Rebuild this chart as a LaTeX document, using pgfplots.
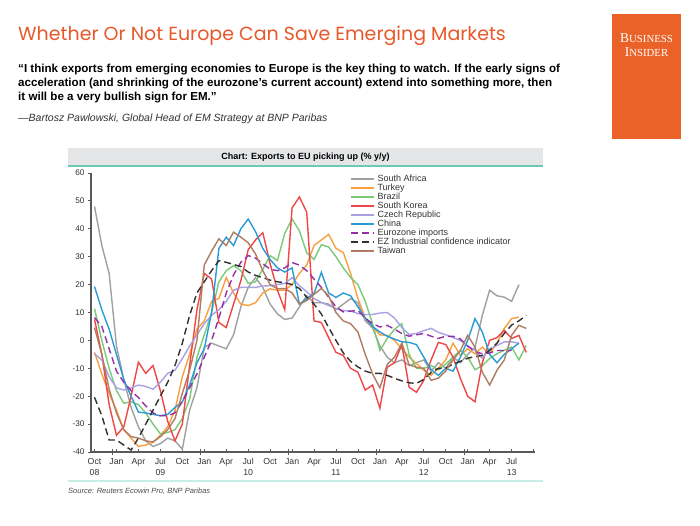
\documentclass[border=0pt]{standalone}
\usepackage{fontspec}
\setmainfont{Liberation Sans}
\newfontfamily\titlefont{Poppins}
\newfontfamily\bifont{Liberation Serif}
\usepackage{pgfplots}
\pgfplotsset{compat=1.18}
\usepackage{pgfplotstable}
\usepackage{graphicx}

\definecolor{titleorange}{RGB}{232,88,42}
\definecolor{biorange}{RGB}{234,98,40}
\definecolor{headgray}{RGB}{228,230,232}
\definecolor{tealline}{RGB}{108,201,181}
\definecolor{teallight}{RGB}{200,237,230}
\definecolor{cSA}{RGB}{160,160,160}
\definecolor{cTR}{RGB}{248,160,64}
\definecolor{cBR}{RGB}{122,202,122}
\definecolor{cKR}{RGB}{240,70,70}
\definecolor{cCZ}{RGB}{168,162,228}
\definecolor{cCN}{RGB}{42,155,213}
\definecolor{cEZI}{RGB}{150,48,168}
\definecolor{cEZC}{RGB}{50,50,50}
\definecolor{cTW}{RGB}{176,124,98}

\pgfplotstableread{
m sa tr br kr cz cn ezi ezc tw
0 48 -4.3 11.4 7.5 -4.8 19.3 8.2 -20.4 4.6
1 34 -12 0 -5 -7 11 5 -27 -5
2 24 -19 -10 -23 -13 4 -3 -35.7 -17.5
3 -2 -25 -18 -34 -17 -5 -11 -35.7 -26
4 -14 -32 -22.5 -31 -17.8 -14 -15 -37.5 -32
5 -24 -35 -22 -20 -17 -20 -18 -39.3 -34.5
6 -31 -38 -23 -7.8 -16 -25.7 -20.5 -35 -35
7 -36 -37.5 -26 -11.8 -16.5 -26 -23.5 -30 -36
8 -38 -36.5 -30 -9 -17.5 -26.5 -26 -25 -36.4
9 -37 -34 -33.5 -18 -15 -27 -27 -20 -34.5
10 -35 -31 -33 -29 -11.8 -26.5 -27 -15 -32
11 -36 -25 -32 -36 -10.7 -24 -26 -9 -28
12 -39 -13 -28 -30 -6.5 -22 -22 -1 -19
13 -25 -5 -21 -9 -2 -16 -17 9 -10.7
14 -17 4 -6 11 2 -8 -12 17 0
15 -2.5 7 2 24 6 -3 -6 21 27
16 -1 14 10 22 9 10 0 25 32
17 -2 15 21 6.4 11 33 8 28.6 36.4
18 -3 22.5 25 4.6 14 37 17 28 34
19 2 17 26.8 13 18 34 23.5 27.2 38.8
20 12 13 25 21.4 19 40 28 26.5 37
21 19 12.5 20.5 32.5 19 43.5 30.4 24.5 35
22 22.5 13.5 21 36 19 39 29.5 23.3 31
23 19 17 25.5 38.6 19.5 33 27.5 22.5 25
24 13 18.5 30.4 27.5 19.6 29 25.5 21.6 20
25 9.5 18 28.6 18 20 26 25 21 18.5
26 7.5 18 38.4 11 20.4 24.5 26 20.7 18.6
27 8 20 43.5 47.5 22.5 26 27.9 20 17
28 12 24 39.3 51.4 19.6 13 27 18.6 13
29 16 27 31.4 46 17.5 15 25 15.5 14.3
30 13.5 34 29 7 15 16.8 22 13 16.5
31 13.5 36 34.3 6.4 13.6 24.4 19 9.5 18.6
32 13 38 33.5 1 12.5 17 15.5 4.6 16
33 11 33 30 -4.3 11.5 15.4 12 0 10
34 13 31.5 26 -5.4 10.7 17 10.2 -4.5 7
35 15 24 22.5 -10 10.5 16 10.5 -7.5 6
36 13.5 15 20 -11.4 9.6 12 10.7 -9.5 3
37 7 8 14 -17.8 9.3 8 8 -11 -5
38 4.5 5 6 -16 9.3 5 6 -11.8 -12
39 -2 2 -3.6 -24.3 9.8 3 4.8 -11.8 -17
40 -6 1.8 0.7 -9.6 10 1.5 5.4 -12.5 -8.6
41 -8 0 4 -8 8 0.5 4 -13.6 -6
42 -7 -3 6 -1.5 4.6 -0.5 2.5 -14.5 -1
43 -9 -6 -5 -16.8 2.1 -0.7 1.5 -15.2 -8.8
44 -8 -8.3 -10 -18.6 2.5 -1.5 2 -15.4 -9.6
45 -7 -10.7 -10 -14.3 3.5 -6 2.5 -14 -10
46 -11 -12.5 -9 -7 4.3 -10.5 1.5 -11.5 -14.3
47 -8 -10 -10.5 -0.7 2.9 -12.5 0.7 -10 -13.5
48 -10 -7 -8.5 -1.5 2 -10 1.5 -10 -11
49 -6 -1 -6 -6 1 -11 1.5 -8.5 -7
50 -8 -5.4 -3.6 -13.6 0 -6 0.5 -7.5 -3.6
51 -5 -3 -6 -20 -2 0 -2 -6.4 1.8
52 -2.5 -4.8 -10.5 -22 -3.6 7.8 -4 -5.8 -2.4
53 9 -2.4 -9 -8 -6.4 3 -4.8 -5.4 -11.4
54 18 -4.8 -6.5 0 -3 -5 -4.5 -3.6 -16
55 16 -1 -4.8 1 -1.8 -8 -3.6 -1 -10.7
56 15.5 4.3 -3.5 3.6 -0.5 -5 -3.6 2.5 -7
57 14 7.8 -2.4 0.7 -0.5 -3 -3.6 5.5 1.8
58 20 8.3 -7 1.8 -1 -1 nan 7 5.4
59 nan nan -1.8 -4.3 nan nan nan 9 4.3
}\data

\begin{document}
\begin{tikzpicture}
\path[use as bounding box, fill=white] (0pt,0pt) rectangle (700pt,-525pt);

% title
\node[anchor=base west, inner sep=0pt, text=titleorange, font=\titlefont\fontsize{19}{21}\selectfont] at (18pt,-40pt) {Whether Or Not Europe Can Save Emerging Markets};

% quote
\node[anchor=base west, inner sep=0pt, font=\bfseries\fontsize{11.6}{13}\selectfont] at (18pt,-72pt) {“I think exports from emerging economies to Europe is the key thing to watch. If the early signs of};
\node[anchor=base west, inner sep=0pt, font=\bfseries\fontsize{11.6}{13}\selectfont] at (18pt,-86pt) {acceleration (and shrinking of the eurozone’s current account) extend into something more, then};
\node[anchor=base west, inner sep=0pt, font=\bfseries\fontsize{11.6}{13}\selectfont] at (18pt,-100pt) {it will be a very bullish sign for EM.”};
\node[anchor=base west, inner sep=0pt, text=black!80, font=\itshape\fontsize{10.5}{12}\selectfont] at (18pt,-121pt) {—Bartosz Pawlowski, Global Head of EM Strategy at BNP Paribas};

% Business Insider logo
\fill[biorange] (612pt,-14pt) rectangle (681pt,-139pt);
\node[text=white, inner sep=0pt, anchor=base] at (646.5pt,-42.5pt) {\bifont{\fontsize{13.5}{13}\selectfont B}{\fontsize{10.8}{13}\selectfont USINESS}};
\node[text=white, inner sep=0pt, anchor=base] at (646.5pt,-56pt) {\bifont{\fontsize{13.5}{13}\selectfont I}{\fontsize{10.8}{13}\selectfont NSIDER}};

% chart header
\fill[headgray] (68pt,-148pt) rectangle (543pt,-166pt);
\draw[tealline, line width=1.5pt] (68pt,-166pt) -- (543pt,-166pt);
\node[font=\bfseries\fontsize{9}{10}\selectfont, inner sep=0pt] at (305.5pt,-157.5pt) {Chart: Exports to EU picking up (\% y/y)};

% bottom
\draw[teallight, line width=1.5pt] (68pt,-481pt) -- (543pt,-481pt);
\node[anchor=west, inner sep=0pt, text=black!70, font=\itshape\fontsize{7.5}{9}\selectfont] at (68pt,-491pt) {Source: Reuters Ecowin Pro, BNP Paribas};

\begin{axis}[
  at={(91pt,-452pt)}, anchor=south west,
  scale only axis, width=444pt, height=279pt,
  xmin=-0.48, xmax=60.2, ymin=-40, ymax=60,
  axis x line*=bottom, axis y line*=left,
  axis line style={draw=black!65, line width=1.2pt},
  tick align=outside,
  major tick length=3pt,
  ytick={-40,-30,...,60},
  xtick={0,3,...,60},
  xticklabels={{Oct\\08},Jan,Apr,{Jul\\09},Oct,Jan,Apr,{Jul\\10},Oct,Jan,Apr,{Jul\\11},Oct,Jan,Apr,{Jul\\12},Oct,Jan,Apr,{Jul\\13},{}},
  xticklabel style={align=center, font=\fontsize{8.7}{10.5}\selectfont, text=black!80},
  yticklabel style={font=\fontsize{8.2}{9}\selectfont, text=black!80},
  ytick style={draw=black!65, line width=0.8pt},
  xtick style={draw=black!65, line width=0.8pt, yshift=3pt},
  extra x ticks={2.5,14.5,26.5,38.5,50.5},
  extra x tick labels={},
  extra x tick style={major tick length=6pt},
  /pgf/number format/assume math mode=true,
  unbounded coords=jump,
  legend cell align=left,
  legend style={at={(0.583,0.995)}, anchor=north west, draw=none, fill=none,
     font=\fontsize{9}{9}\selectfont, inner sep=0pt,
     nodes={text=black!80, text height=6.5pt, text depth=1.9pt, inner ysep=0.3pt, inner xsep=3pt}},
  legend image code/.code={\draw[#1, line width=1.5pt] (0pt,0pt) -- (23pt,0pt);},
  pl/.style={line width=1.4pt},
]
\addplot[cSA, pl] table[x=m,y=sa]{\data};
\addlegendentry{South Africa}
\addplot[cTR, pl] table[x=m,y=tr]{\data};
\addlegendentry{Turkey}
\addplot[cBR, pl] table[x=m,y=br]{\data};
\addlegendentry{Brazil}
\addplot[cKR, pl] table[x=m,y=kr]{\data};
\addlegendentry{South Korea}
\addplot[cCZ, pl] table[x=m,y=cz]{\data};
\addlegendentry{Czech Republic}
\addplot[cCN, pl] table[x=m,y=cn]{\data};
\addlegendentry{China}
\addplot[cEZI, pl, dash pattern=on 7pt off 4pt] table[x=m,y=ezi]{\data};
\addlegendentry{Eurozone imports}
\addplot[cEZC, pl, dash pattern=on 7pt off 4pt] table[x=m,y=ezc]{\data};
\addlegendentry{EZ Industrial confidence indicator}
\addplot[cTW, pl] table[x=m,y=tw]{\data};
\addlegendentry{Taiwan}
\end{axis}
\end{tikzpicture}
\end{document}
